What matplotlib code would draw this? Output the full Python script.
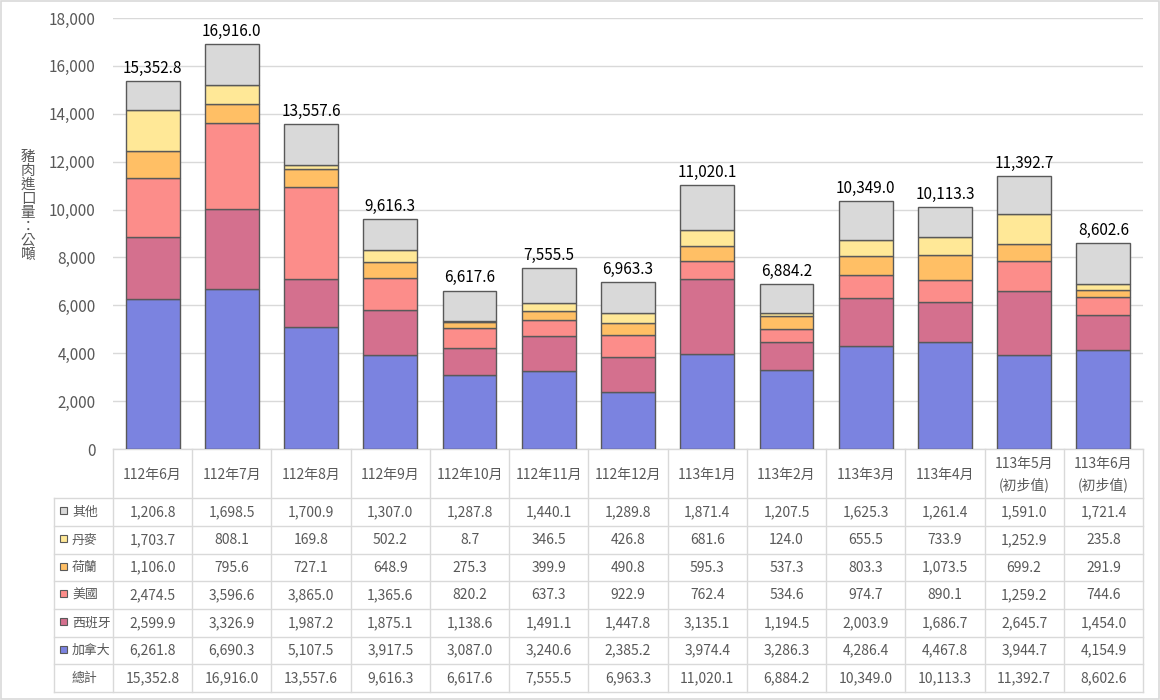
import matplotlib
matplotlib.use("Agg")
import matplotlib.pyplot as plt
import matplotlib.transforms as mtransforms
from matplotlib.patches import Rectangle
import numpy as np

plt.rcParams['font.family'] = ['Noto Sans CJK TC', 'DejaVu Sans']

categories = ["112年6月", "112年7月", "112年8月", "112年9月", "112年10月", "112年11月",
              "112年12月", "113年1月", "113年2月", "113年3月", "113年4月",
              "113年5月\n(初步值)", "113年6月\n(初步值)"]

canada = [6261.8, 6690.3, 5107.5, 3917.5, 3087.0, 3240.6, 2385.2, 3974.4, 3286.3, 4286.4, 4467.8, 3944.7, 4154.9]
spain = [2599.9, 3326.9, 1987.2, 1875.1, 1138.6, 1491.1, 1447.8, 3135.1, 1194.5, 2003.9, 1686.7, 2645.7, 1454.0]
usa = [2474.5, 3596.6, 3865.0, 1365.6, 820.2, 637.3, 922.9, 762.4, 534.6, 974.7, 890.1, 1259.2, 744.6]
netherlands = [1106.0, 795.6, 727.1, 648.9, 275.3, 399.9, 490.8, 595.3, 537.3, 803.3, 1073.5, 699.2, 291.9]
denmark = [1703.7, 808.1, 169.8, 502.2, 8.7, 346.5, 426.8, 681.6, 124.0, 655.5, 733.9, 1252.9, 235.8]
others = [1206.8, 1698.5, 1700.9, 1307.0, 1287.8, 1440.1, 1289.8, 1871.4, 1207.5, 1625.3, 1261.4, 1591.0, 1721.4]
totals = [15352.8, 16916.0, 13557.6, 9616.3, 6617.6, 7555.5, 6963.3, 11020.1, 6884.2, 10349.0, 10113.3, 11392.7, 8602.6]

series_names = ["加拿大", "西班牙", "美國", "荷蘭", "丹麥", "其他"]
series_values = [canada, spain, usa, netherlands, denmark, others]
colors = ["#7B83E0", "#D4708E", "#FC8D8A", "#FFBF65", "#FFE897", "#D9D9D9"]

yticks = [0, 2000, 4000, 6000, 8000, 10000, 12000, 14000, 16000, 18000]
ylabel = "豬肉進口量：公噸"

W, H = 1160, 700
fig = plt.figure(figsize=(W / 100, H / 100), dpi=100)

# overlay in pixel coords
ov = fig.add_axes([0, 0, 1, 1])
ov.set_xlim(0, W)
ov.set_ylim(H, 0)
ov.axis('off')
ov.set_zorder(0)

ax_left, ax_right, ax_top, ax_bot = 113, 1143, 18, 449
ax = fig.add_axes([ax_left / W, 1 - ax_bot / H, (ax_right - ax_left) / W, (ax_bot - ax_top) / H])
ax.set_zorder(1)
ax.patch.set_alpha(0)

n = len(categories)
x = np.arange(n)
bottom = np.zeros(n)
for name, vals, c in zip(series_names, series_values, colors):
    v = np.array(vals)
    ax.bar(x, v, bottom=bottom, width=0.68, color=c, edgecolor="#595959", linewidth=1.0, zorder=3)
    bottom += v

for xi, t in zip(x, totals):
    ax.annotate(f"{t:,.1f}", (xi, t), xytext=(0, 3), textcoords="offset points",
                ha="center", va="bottom", fontsize=11, color="#000000", zorder=4)

ax.set_xlim(-0.5, n - 0.5)
ax.set_ylim(0, 18000)
ax.set_yticks(yticks)
ax.set_yticklabels([f"{v:,}" for v in yticks], fontsize=11, color="#595959")
ax.tick_params(axis='y', length=0, pad=12.5)
ax.tick_params(axis='x', length=0, labelbottom=False)
ax.grid(axis='y', color="#D9D9D9", linewidth=1.0, zorder=0)
for s in ["top", "right", "left"]:
    ax.spines[s].set_visible(False)
ax.spines["bottom"].set_color("#D9D9D9")
ax.spines["bottom"].set_linewidth(1.0)

# y label stacked vertically
fig.text(28 / W, 1 - 206 / H, "\n".join(list(ylabel)), ha="center", va="center",
         fontsize=10.5, color="#595959", linespacing=1.0)

# table
tr = mtransforms.blended_transform_factory(ax.transData, ov.transData)
line_c = "#D9D9D9"
row_edges = [449, 498, 526, 554, 581, 609, 637, 664, 692]
tab_left = 54
# vertical lines
for i in range(n + 1):
    ov.plot([i - 0.5, i - 0.5], [row_edges[0], row_edges[-1]], color=line_c, lw=1.0, transform=tr)
ov.plot([tab_left, tab_left], [row_edges[1], row_edges[-1]], color=line_c, lw=1.0)
for yy in row_edges[1:]:
    ov.plot([tab_left, ax_right], [yy, yy], color=line_c, lw=1.0)

# header
hc = (row_edges[0] + row_edges[1]) / 2
for i, cat in enumerate(categories):
    ov.text(i, hc + 1, cat, transform=tr, ha="center", va="center", fontsize=10,
            color="#595959", linespacing=1.55)

rows = list(zip(series_names[::-1], series_values[::-1], colors[::-1]))
for r, (name, vals, c) in enumerate(rows):
    yc = (row_edges[r + 1] + row_edges[r + 2]) / 2
    ov.add_patch(Rectangle((60, yc - 5), 7, 7, facecolor=c, edgecolor="#595959", lw=0.8))
    ov.text(72, yc, name, ha="left", va="center", fontsize=9.3, color="#595959")
    for i, v in enumerate(vals):
        ov.text(i, yc, f"{v:,.1f}", transform=tr, ha="center", va="center", fontsize=10, color="#595959")
yc = (row_edges[-2] + row_edges[-1]) / 2
ov.text(84, yc, "總計", ha="center", va="center", fontsize=9.3, color="#595959")
for i, v in enumerate(totals):
    ov.text(i, yc, f"{v:,.1f}", transform=tr, ha="center", va="center", fontsize=10, color="#595959")

# chart area border
ov.add_patch(Rectangle((0.5, 0.5), W - 1.5, H - 1.5, fill=False, edgecolor="#D9D9D9", lw=1.2))

fig.savefig("out.png", dpi=100)
